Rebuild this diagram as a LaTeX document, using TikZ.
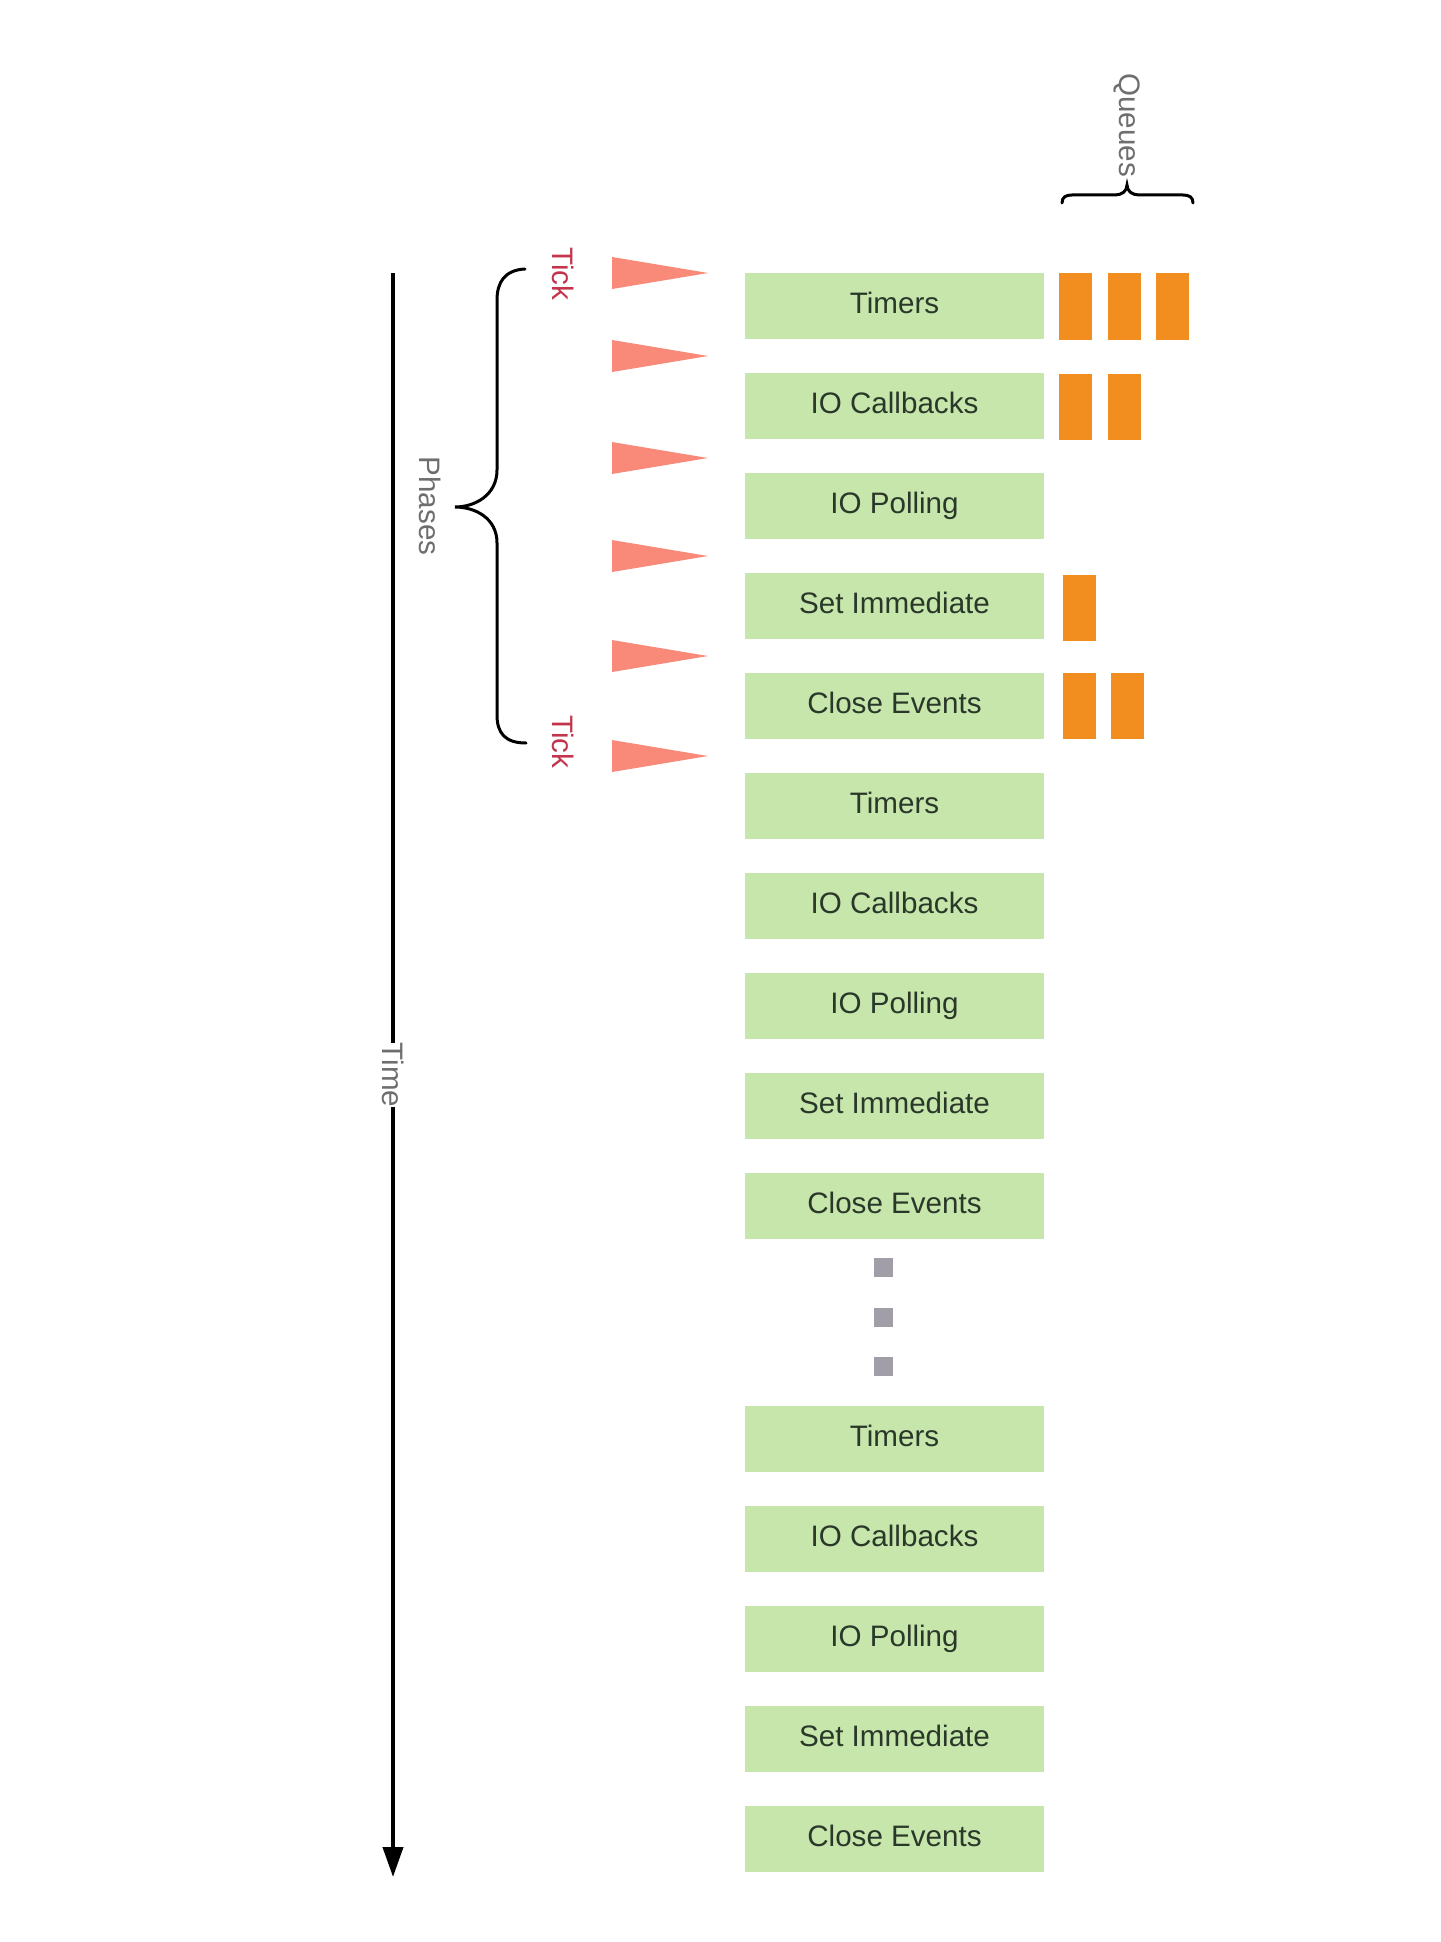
\documentclass[tikz,border=0pt]{standalone}
\usepackage{fontspec}
\setmainfont{Liberation Sans}
\usepackage{tikz}
\usetikzlibrary{arrows.meta}

\definecolor{phasegreen}{HTML}{C7E6AC}
\definecolor{phasetext}{HTML}{2A382A}
\definecolor{queueorange}{HTML}{F28E1F}
\definecolor{tickpink}{HTML}{F98A7A}
\definecolor{tickred}{HTML}{C4344C}
\definecolor{labelgray}{HTML}{6E6E6E}
\definecolor{dotgray}{HTML}{A19EA7}

\newcommand{\labelfont}{\fontsize{14.8}{17}\selectfont}

\tikzset{
  phase/.style={fill=phasegreen, text=phasetext, inner sep=0pt,
    text height=11pt, text depth=4pt,
    minimum width=149.5pt, minimum height=33pt, font=\labelfont},
  queue/.style={fill=queueorange},
  tickmark/.style={fill=tickpink},
  ticklabel/.style={text=tickred, rotate=-90, inner sep=0pt, font=\labelfont},
  sidelabel/.style={text=labelgray, rotate=-90, inner sep=0pt, font=\labelfont},
  bracket/.style={line width=1.5pt, line cap=round},
  ellipsisdot/.style={fill=dotgray, inner sep=0pt, minimum size=9.5pt},
}

\begin{document}
\begin{tikzpicture}[x=0.5pt, y=-0.5pt]
\useasboundingbox (0,0) rectangle (1440,1942);

\foreach \t [count=\i from 0] in {Timers,IO Callbacks,IO Polling,Set Immediate,Close Events,Timers,IO Callbacks,IO Polling,Set Immediate,Close Events}
  \node[phase] (phase\i) at (894.5,{306+100*\i}) {\t};
\foreach \t [count=\i from 10] in {Timers,IO Callbacks,IO Polling,Set Immediate,Close Events}
  \node[phase] (phase\i) at (894.5,{1439+100*(\i-10)}) {\t};

\node[ellipsisdot] (dot1) at (883,1267) {};
\node[ellipsisdot] (dot2) at (883,1317) {};
\node[ellipsisdot] (dot3) at (883,1366) {};

% queues
\fill[queue] (1059,273) rectangle (1092,340);
\fill[queue] (1108,273) rectangle (1141,340);
\fill[queue] (1156,273) rectangle (1189,340);
\fill[queue] (1059,374) rectangle (1092,440);
\fill[queue] (1108,374) rectangle (1141,440);
\fill[queue] (1063,575) rectangle (1096,641);
\fill[queue] (1063,673) rectangle (1096,739);
\fill[queue] (1111,673) rectangle (1144,739);

\draw[bracket] (1062,203) .. controls (1062,197) and (1066,195) .. (1072,195) -- (1115,195)
  .. controls (1122,195) and (1127,191) .. (1127,185)
  .. controls (1127,191) and (1132,195) .. (1139,195) -- (1183,195)
  .. controls (1189,195) and (1193,197) .. (1193,203);
\node[sidelabel] (queues) at (1127,125) {Queues};

% ticks
\foreach \y in {273,356,458,556,656,756}
  \fill[tickmark] (612,\y-16) -- (708,\y) -- (612,\y+16) -- cycle;
\node[ticklabel] (tick1) at (563,274) {Tick};
\node[ticklabel] (tick2) at (563,742) {Tick};

\draw[bracket] (525,269) .. controls (505,270) and (497,282) .. (497,300) -- (497,470)
  .. controls (497,495) and (475,507) .. (455,507)
  .. controls (475,507) and (497,518) .. (497,543) -- (497,715)
  .. controls (497,733) and (505,743) .. (526,743);
\node[sidelabel] (phases) at (430,506) {Phases};

\coordinate (tstart) at (393,273);
\coordinate (tend) at (393,1877);
\draw[line width=2pt, -{Triangle[length=15pt,width=10pt]}] (tstart) -- (tend)
  node[sidelabel, pos=0.5, fill=white, inner ysep=2pt] (time) {Time};

\end{tikzpicture}
\end{document}
